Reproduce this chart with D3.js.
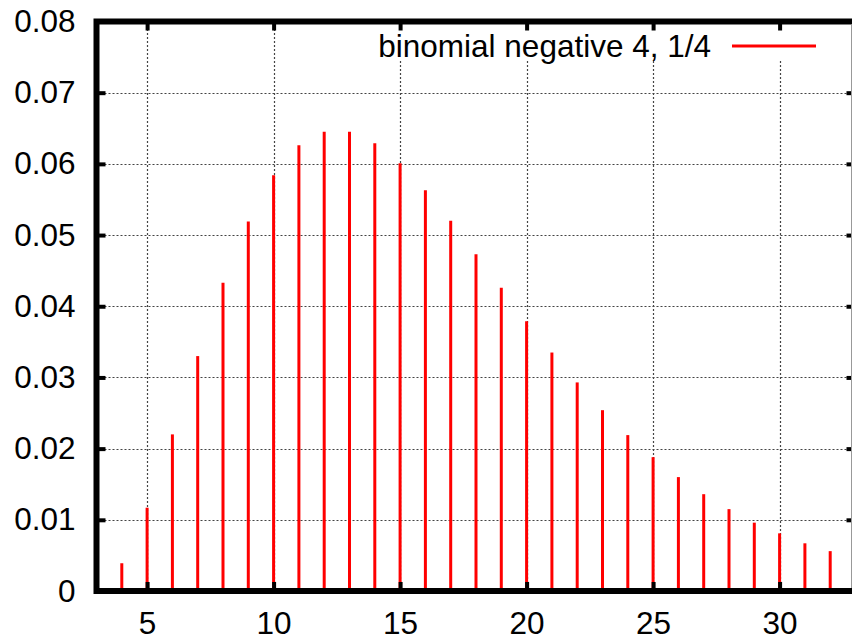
<!DOCTYPE html>
<html>
<head>
<meta charset="utf-8">
<script src="https://cdn.jsdelivr.net/npm/d3@7"></script>
<style>
  html, body { margin: 0; padding: 0; background: #fff; }
  svg { display: block; font-family: "Liberation Sans", Arial, sans-serif; }
</style>
</head>
<body>
<div class="container"></div>
<script>
const width = 852,
    height = 638,
    fontSize = '31.5px';

// values
const trials = [4, 5, 6, 7, 8, 9, 10, 11, 12, 13, 14, 15, 16, 17, 18,
                19, 20, 21, 22, 23, 24, 25, 26, 27, 28, 29, 30, 31, 32];
const probs = [0.0039, 0.0117, 0.0220, 0.0330, 0.0433, 0.0519, 0.0584, 0.0626,
               0.0645, 0.0645, 0.0629, 0.0601, 0.0563, 0.0520, 0.0473, 0.0426,
               0.0379, 0.0335, 0.0293, 0.0254, 0.0219, 0.0188, 0.0160, 0.0136,
               0.0115, 0.0096, 0.0081, 0.0067, 0.0056];
const xTicks = [5, 10, 15, 20, 25, 30];
const yTicks = [0, 0.01, 0.02, 0.03, 0.04, 0.05, 0.06, 0.07, 0.08];
const yTickLabels = ["0", "0.01", "0.02", "0.03", "0.04", "0.05", "0.06", "0.07", "0.08"];
const seriesName = "binomial negative 4, 1/4";

const plotLeft = 96.5, plotRight = 855.5, plotTop = 21.5, plotBottom = 591;

const svg = d3.select('.container')
  .append('svg')
  .attr('width', width)
  .attr('height', height);

const x = d3.scaleLinear().domain([3, 33]).range([plotLeft, plotRight]);
const y = d3.scaleLinear().domain([0, 0.08]).range([plotBottom, plotTop]);

// grid
const grid = svg.append('g')
  .attr('stroke', '#444')
  .attr('stroke-width', 1.2)
  .attr('stroke-dasharray', '2,2');

grid.selectAll('line.v')
  .data(xTicks)
  .enter()
  .append('line')
  .attr('class', 'v')
  .attr('x1', d => Math.round(x(d)) + 0.5)
  .attr('x2', d => Math.round(x(d)) + 0.5)
  .attr('y1', plotBottom)
  .attr('y2', plotTop);

grid.selectAll('line.h')
  .data(yTicks.slice(1, -1))
  .enter()
  .append('line')
  .attr('class', 'h')
  .attr('x1', plotLeft)
  .attr('x2', plotRight)
  .attr('y1', d => Math.round(y(d)) + 0.5)
  .attr('y2', d => Math.round(y(d)) + 0.5);

// key box hides the grid behind it
svg.append('rect')
  .attr('x', 365)
  .attr('y', plotTop)
  .attr('width', 470)
  .attr('height', 38)
  .attr('fill', '#fff');

// impulses
svg.selectAll('line.imp')
  .data(probs)
  .enter()
  .append('line')
  .attr('class', 'imp')
  .attr('x1', (d, i) => x(trials[i]))
  .attr('x2', (d, i) => x(trials[i]))
  .attr('y1', y(0))
  .attr('y2', d => y(d))
  .attr('stroke', '#ff0000')
  .attr('stroke-width', 3);

// axes, ticks point inward
const styleAxis = (g) => {
  g.select('.domain').remove();
  g.selectAll('.tick line').attr('stroke', '#000').attr('stroke-width', 4);
  g.selectAll('.tick text')
    .attr('fill', '#000')
    .style('font-size', fontSize)
    .style('font-family', '"Liberation Sans", Arial, sans-serif');
};

svg.append('g')
  .attr('transform', `translate(0, ${plotBottom})`)
  .call(d3.axisBottom(x).tickValues(xTicks).tickSizeInner(-9).tickSizeOuter(0).tickPadding(21))
  .call(styleAxis);

svg.append('g')
  .attr('transform', `translate(${plotLeft}, 0)`)
  .call(d3.axisLeft(y).tickValues(yTicks).tickFormat((d, i) => yTickLabels[i])
        .tickSizeInner(-9).tickSizeOuter(0).tickPadding(21))
  .call(styleAxis);

svg.append('g')
  .attr('transform', `translate(0, ${plotTop})`)
  .call(d3.axisTop(x).tickValues(xTicks).tickFormat('').tickSizeInner(-9).tickSizeOuter(0))
  .call(styleAxis);

svg.append('g')
  .attr('transform', `translate(${plotRight}, 0)`)
  .call(d3.axisRight(y).tickValues(yTicks).tickFormat('').tickSizeInner(-9).tickSizeOuter(0))
  .call(styleAxis);

// frame
svg.append('rect')
  .attr('x', plotLeft)
  .attr('y', plotTop)
  .attr('width', plotRight - plotLeft)
  .attr('height', plotBottom - plotTop)
  .attr('fill', 'none')
  .attr('stroke', '#000')
  .attr('stroke-width', 6);

svg.append('line')
  .attr('x1', 851.5).attr('x2', 851.5)
  .attr('y1', plotTop + 3).attr('y2', plotBottom - 3)
  .attr('stroke', '#999')
  .attr('stroke-width', 1);

// key
svg.append('text')
  .attr('x', 711)
  .attr('y', 46)
  .attr('dy', '0.35em')
  .attr('text-anchor', 'end')
  .style('font-size', fontSize)
  .text(seriesName);

svg.append('line')
  .attr('x1', 732)
  .attr('x2', 816)
  .attr('y1', 46)
  .attr('y2', 46)
  .attr('stroke', '#ff0000')
  .attr('stroke-width', 3);
</script>
</body>
</html>
